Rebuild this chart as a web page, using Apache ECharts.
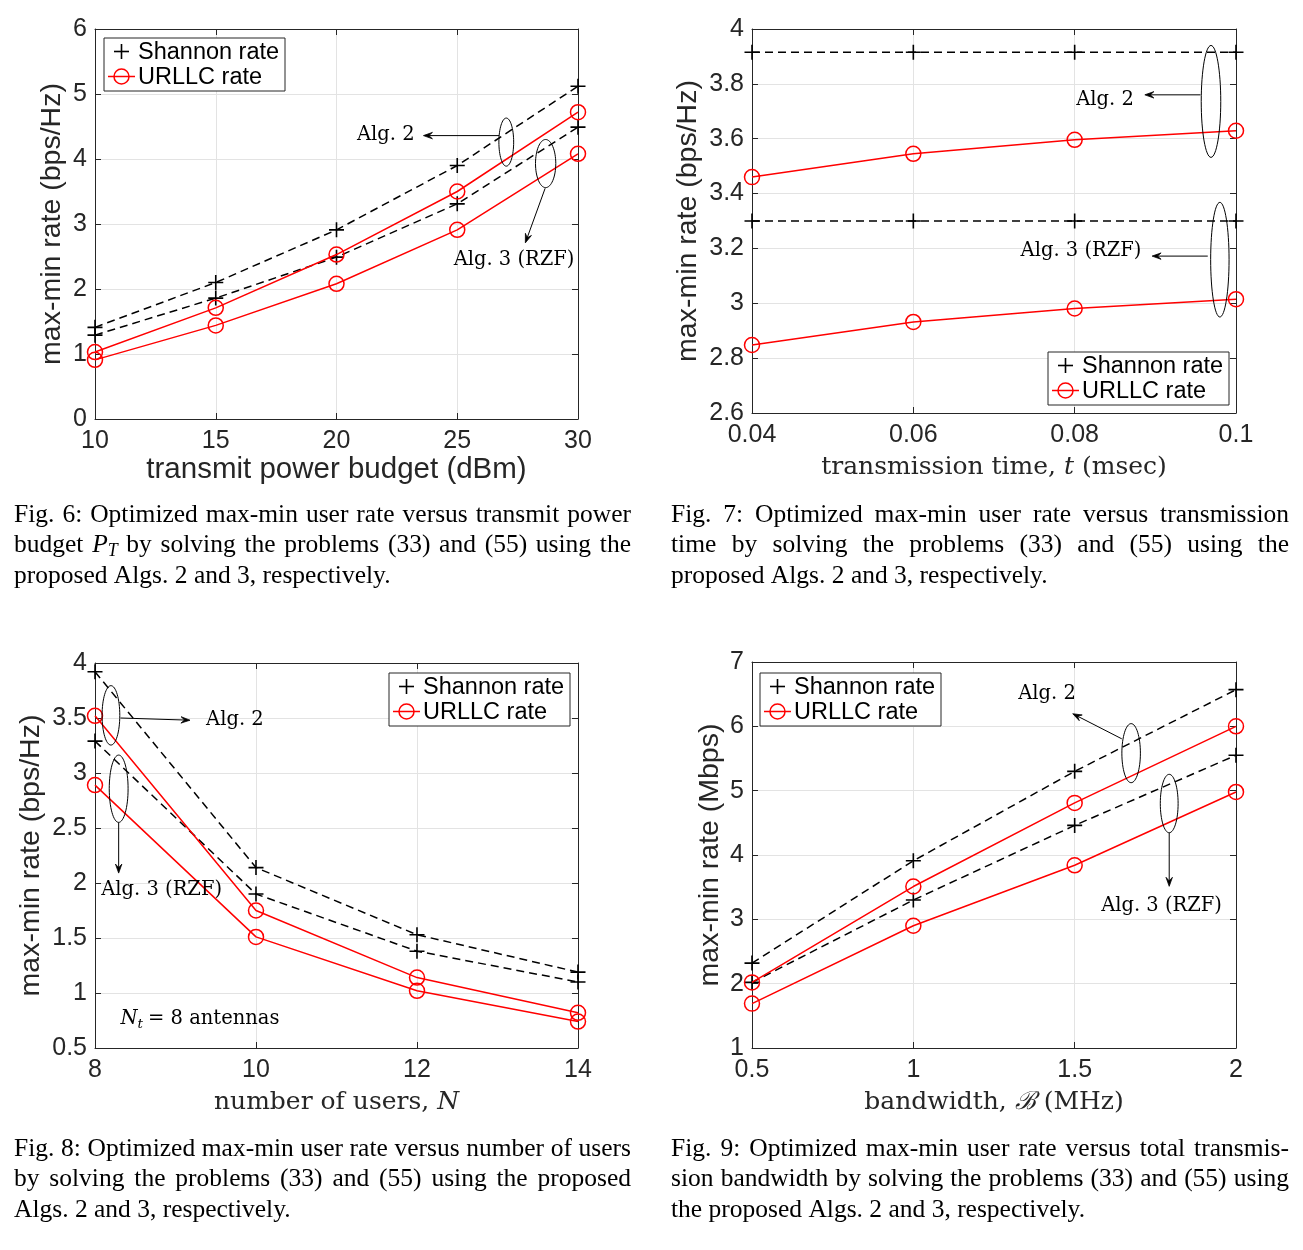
<!DOCTYPE html>
<html><head><meta charset="utf-8">
<script src="https://cdn.jsdelivr.net/npm/echarts@6/dist/echarts.min.js"></script>
<style>html,body{margin:0;padding:0;background:#fff}#c{width:1303px;height:1250px}</style>
</head><body><div id="c"></div>
<script>
// ---------------- DATA ----------------
// Fig. 6: transmit power budget (dBm)
const fig6X = [10, 15, 20, 25, 30];
const fig6ShannonAlg2 = [1.41, 2.10, 2.91, 3.90, 5.12];
const fig6ShannonAlg3 = [1.29, 1.86, 2.49, 3.31, 4.49];
const fig6UrllcAlg2 = [1.03, 1.71, 2.53, 3.50, 4.72];
const fig6UrllcAlg3 = [0.91, 1.44, 2.08, 2.91, 4.08];
// Fig. 7: transmission time (msec)
const fig7X = [0.04, 0.06, 0.08, 0.1];
const fig7ShannonAlg2 = [3.915, 3.915, 3.915, 3.915];
const fig7ShannonAlg3 = [3.30, 3.30, 3.30, 3.30];
const fig7UrllcAlg2 = [3.46, 3.545, 3.596, 3.629];
const fig7UrllcAlg3 = [2.848, 2.932, 2.981, 3.015];
// Fig. 8: number of users
const fig8X = [8, 10, 12, 14];
const fig8ShannonAlg2 = [3.92, 2.14, 1.53, 1.19];
const fig8ShannonAlg3 = [3.29, 1.90, 1.38, 1.10];
const fig8UrllcAlg2 = [3.52, 1.75, 1.14, 0.82];
const fig8UrllcAlg3 = [2.89, 1.51, 1.02, 0.74];
// Fig. 9: bandwidth (MHz)
const fig9X = [0.5, 1, 1.5, 2];
const fig9ShannonAlg2 = [2.32, 3.91, 5.30, 6.57];
const fig9ShannonAlg3 = [2.02, 3.30, 4.46, 5.55];
const fig9UrllcAlg2 = [2.02, 3.51, 4.81, 6.00];
const fig9UrllcAlg3 = [1.69, 2.90, 3.84, 4.98];

// axis ranges [min, max, interval]
const fig6XTicks = [10, 30, 5], fig6YTicks = [0, 6, 1];
const fig7XTicks = [0.04, 0.1, 0.02], fig7YTicks = [2.6, 4, 0.2];
const fig8XTicks = [8, 14, 2], fig8YTicks = [0.5, 4, 0.5];
const fig9XTicks = [0.5, 2, 0.5], fig9YTicks = [1, 7, 1];

const legendNames = ['Shannon rate', 'URLLC rate'];
const annoAlg2 = 'Alg. 2';
const annoAlg3 = 'Alg. 3 (RZF)';

// ---------------- STYLE / LAYOUT ----------------
const INK = '#262626';
const SANS = '"Liberation Sans", Arial, sans-serif';
const SERIF_M = '"DejaVu Serif", serif';
const SERIF_T = '"Liberation Serif", "Times New Roman", serif';
const TICK_FS = 25, TITLE_FS = 29.5, SERIF_TITLE_FS = 25, ANNO_FS = 19.5, LEG_FS = 23.5, CAP_FS = 25.5;

const grids = [
  {left: 95, top: 29, width: 483, height: 390},
  {left: 752, top: 29, width: 484, height: 384},
  {left: 95, top: 663, width: 483, height: 385},
  {left: 752, top: 662, width: 484, height: 386}
];
const figs = [
  {xt: fig6XTicks, yt: fig6YTicks, x: fig6X, s2: fig6ShannonAlg2, s3: fig6ShannonAlg3, u2: fig6UrllcAlg2, u3: fig6UrllcAlg3,
   xName: 'transmit power budget (dBm)', xSerif: false, yName: 'max-min rate (bps/Hz)', yGap: 28},
  {xt: fig7XTicks, yt: fig7YTicks, x: fig7X, s2: fig7ShannonAlg2, s3: fig7ShannonAlg3, u2: fig7UrllcAlg2, u3: fig7UrllcAlg3,
   xName: '{r|transmission time, }{i|t}{r| (msec)}', xSerif: true, yName: 'max-min rate (bps/Hz)', yGap: 49},
  {xt: fig8XTicks, yt: fig8YTicks, x: fig8X, s2: fig8ShannonAlg2, s3: fig8ShannonAlg3, u2: fig8UrllcAlg2, u3: fig8UrllcAlg3,
   xName: '{r|number of users, }{i|N}', xSerif: true, yName: 'max-min rate (bps/Hz)', yGap: 49},
  {xt: fig9XTicks, yt: fig9YTicks, x: fig9X, s2: fig9ShannonAlg2, s3: fig9ShannonAlg3, u2: fig9UrllcAlg2, u3: fig9UrllcAlg3,
   xName: '{r|bandwidth, }{i|ℬ}{r| (MHz)}', xSerif: true, yName: 'max-min rate (Mbps)', yGap: 27}
];

const PLUS = 'path://M0,5L10,5M5,0L5,10';
const xAxes = [], yAxes = [], series = [];
figs.forEach((f, i) => {
  const titleStyle = f.xSerif ? {
    rich: {
      r: {fontFamily: SERIF_M, fontSize: SERIF_TITLE_FS, color: INK},
      i: {fontFamily: SERIF_M, fontSize: SERIF_TITLE_FS, color: INK, fontStyle: 'italic'}
    }
  } : {fontFamily: SANS, fontSize: TITLE_FS, color: INK};
  xAxes[i] = {
    type: 'value', gridIndex: i, position: 'bottom', min: f.xt[0], max: f.xt[1], interval: f.xt[2],
    axisLine: {show: true, onZero: false, lineStyle: {color: INK, width: 1}},
    axisTick: {show: true, inside: true, length: 6, lineStyle: {color: INK}},
    axisLabel: {color: INK, fontSize: TICK_FS, fontFamily: SANS, margin: 10},
    splitLine: {show: true, lineStyle: {color: '#e3e3e3', width: 1}},
    name: f.xName, nameLocation: 'middle', nameGap: f.xSerif ? 42 : 36, nameTextStyle: titleStyle
  };
  xAxes[i + 4] = {
    type: 'value', gridIndex: i, position: 'top', min: f.xt[0], max: f.xt[1], interval: f.xt[2],
    axisLine: {show: true, onZero: false, lineStyle: {color: INK, width: 1}},
    axisTick: {show: true, inside: true, length: 6, lineStyle: {color: INK}},
    axisLabel: {show: false}, splitLine: {show: false}
  };
  yAxes[i] = {
    type: 'value', gridIndex: i, position: 'left', min: f.yt[0], max: f.yt[1], interval: f.yt[2],
    axisLine: {show: true, onZero: false, lineStyle: {color: INK, width: 1}},
    axisTick: {show: true, inside: true, length: 6, lineStyle: {color: INK}},
    axisLabel: {color: INK, fontSize: TICK_FS, fontFamily: SANS, margin: 8},
    splitLine: {show: true, lineStyle: {color: '#e3e3e3', width: 1}},
    name: f.yName, nameLocation: 'middle', nameGap: f.yGap,
    nameTextStyle: {fontFamily: SANS, fontSize: TITLE_FS - 1, color: INK}
  };
  yAxes[i + 4] = {
    type: 'value', gridIndex: i, position: 'right', min: f.yt[0], max: f.yt[1], interval: f.yt[2],
    axisLine: {show: true, onZero: false, lineStyle: {color: INK, width: 1}},
    axisTick: {show: true, inside: true, length: 6, lineStyle: {color: INK}},
    axisLabel: {show: false}, splitLine: {show: false}
  };
  const pts = ys => f.x.map((x, k) => [x, ys[k]]);
  [f.s2, f.s3].forEach(ys => series.push({
    type: 'line', name: legendNames[0], xAxisIndex: i, yAxisIndex: i, data: pts(ys),
    symbol: PLUS, symbolSize: 15, symbolKeepAspect: true,
    itemStyle: {color: '#000', borderColor: '#000', borderWidth: 1.6},
    lineStyle: {color: '#000', width: 1.5, type: [8, 5]}, z: 3, silent: true
  }));
  [f.u2, f.u3].forEach(ys => series.push({
    type: 'line', name: legendNames[1], xAxisIndex: i, yAxisIndex: i, data: pts(ys),
    symbol: 'circle', symbolSize: 15,
    itemStyle: {color: 'rgba(0,0,0,0)', borderColor: '#ff0000', borderWidth: 1.5},
    lineStyle: {color: '#ff0000', width: 1.5}, z: 4, silent: true
  }));
});

const chart = echarts.init(document.getElementById('c'), null, {renderer: 'canvas'});
chart.setOption({
  animation: false,
  backgroundColor: '#fff',
  grid: grids.map(g => Object.assign({show: false, containLabel: false, outerBoundsMode: 'none'}, g)),
  xAxis: xAxes, yAxis: yAxes, series: series
});

// ---------------- ANNOTATIONS (data coordinates) ----------------
const annotations = [
  {gi: 0,
   ellipses: [{c: [27.03, 4.26], r: [0.306, 0.37]}, {c: [28.66, 3.93], r: [0.42, 0.37]}],
   arrows: [[[26.73, 4.36], [23.6, 4.36]], [[28.64, 3.55], [27.82, 2.71]]],
   texts: [{t: annoAlg2, at: [20.85, 4.37]}, {t: annoAlg3, at: [24.85, 2.45]}]},
  {gi: 1,
   ellipses: [{c: [0.0969, 3.736], r: [0.00121, 0.204]}, {c: [0.0980, 3.159], r: [0.00114, 0.209]}],
   arrows: [[[0.0956, 3.760], [0.0887, 3.760]], [[0.0965, 3.172], [0.0896, 3.172]]],
   texts: [{t: annoAlg2, at: [0.0802, 3.74]}, {t: annoAlg3, at: [0.0733, 3.19]}]},
  {gi: 2,
   ellipses: [{c: [8.198, 3.524], r: [0.110, 0.27]}, {c: [8.294, 2.857], r: [0.117, 0.306]}],
   arrows: [[[8.317, 3.50], [9.18, 3.48]], [[8.294, 2.55], [8.294, 2.09]]],
   texts: [{t: annoAlg2, at: [9.38, 3.48]}, {t: annoAlg3, at: [8.078, 1.94]}]},
  {gi: 3,
   ellipses: [{c: [1.675, 5.583], r: [0.0287, 0.459]}, {c: [1.793, 4.80], r: [0.0276, 0.454]}],
   arrows: [[[1.646, 5.806], [1.494, 6.196]], [[1.793, 4.343], [1.793, 3.513]]],
   texts: [{t: annoAlg2, at: [1.325, 6.497]}, {t: annoAlg3, at: [1.582, 3.21]}]}
];
const antennaNote = {gi: 2, at: [8.317, 0.76]};

const mctx = document.createElement('canvas').getContext('2d');
function measure(t, size, family, style) {
  mctx.font = (style || 'normal') + ' ' + size + 'px ' + family;
  return mctx.measureText(t).width;
}
function textEl(t, x, y, size, family, style, fill, align) {
  return {type: 'text', x: x, y: y, silent: true, z: 50,
    style: {text: t, fontSize: size, fontFamily: family, fontStyle: style || 'normal', fill: fill || '#000',
      align: align || 'left', textAlign: align || 'left', verticalAlign: 'middle', textVerticalAlign: 'middle'}};
}
const G = [];
const px = (gi, p) => chart.convertToPixel({gridIndex: gi}, p);

annotations.forEach(a => {
  a.ellipses.forEach(e => {
    const c = px(a.gi, e.c);
    const k = px(a.gi, [e.c[0] + e.r[0], e.c[1] + e.r[1]]);
    G.push({type: 'ellipse', silent: true, z: 40,
      shape: {cx: c[0], cy: c[1], rx: Math.abs(k[0] - c[0]), ry: Math.abs(k[1] - c[1])},
      style: {fill: 'none', stroke: '#000', lineWidth: 1}});
  });
  a.arrows.forEach(ar => {
    const p0 = px(a.gi, ar[0]), p1 = px(a.gi, ar[1]);
    const dx = p1[0] - p0[0], dy = p1[1] - p0[1], L = Math.hypot(dx, dy);
    const ux = dx / L, uy = dy / L, nx = -uy, ny = ux;
    const hl = 9, hw = 3.2;
    G.push({type: 'line', silent: true, z: 40,
      shape: {x1: p0[0], y1: p0[1], x2: p1[0] - ux * 4, y2: p1[1] - uy * 4},
      style: {stroke: '#000', lineWidth: 1}});
    G.push({type: 'polygon', silent: true, z: 40,
      shape: {points: [[p1[0], p1[1]],
        [p1[0] - ux * hl + nx * hw, p1[1] - uy * hl + ny * hw],
        [p1[0] - ux * hl * 0.6, p1[1] - uy * hl * 0.6],
        [p1[0] - ux * hl - nx * hw, p1[1] - uy * hl - ny * hw]]},
      style: {fill: '#000', stroke: '#000', lineWidth: 0.8}});
  });
  a.texts.forEach(t => {
    const p = px(a.gi, t.at);
    G.push(textEl(t.t, p[0], p[1], ANNO_FS, SERIF_M, 'normal', '#000'));
  });
});
// N_t = 8 antennas
(function () {
  const p = px(antennaNote.gi, antennaNote.at);
  let x = p[0];
  G.push(textEl('N', x, p[1], ANNO_FS, SERIF_M, 'italic')); x += measure('N', ANNO_FS, SERIF_M, 'italic');
  G.push(textEl('t', x, p[1] + 5, 13.5, SERIF_M, 'italic')); x += measure('t', 13.5, SERIF_M, 'italic') + 5;
  G.push(textEl('= 8 antennas', x, p[1], ANNO_FS, SERIF_M, 'normal'));
})();

// ---------------- LEGENDS ----------------
const legendBoxes = [
  {gi: 0, corner: 'tl', dx: 9, dy: 9},
  {gi: 1, corner: 'br', dx: 7, dy: 8},
  {gi: 2, corner: 'tr', dx: 8, dy: 10},
  {gi: 3, corner: 'tl', dx: 8, dy: 11}
];
legendBoxes.forEach(l => {
  const g = grids[l.gi], W = 181, H = 53;
  let x = l.corner.indexOf('l') >= 0 ? g.left + l.dx : g.left + g.width - l.dx - W;
  let y = l.corner.indexOf('t') >= 0 ? g.top + l.dy : g.top + g.height - l.dy - H;
  G.push({type: 'rect', silent: true, z: 60, shape: {x: x, y: y, width: W, height: H},
    style: {fill: '#fff', stroke: INK, lineWidth: 1}});
  const r1 = y + 13.5, r2 = y + 38.5, cx = x + 17.5;
  G.push({type: 'line', silent: true, z: 61, shape: {x1: cx - 7.5, y1: r1, x2: cx + 7.5, y2: r1}, style: {stroke: '#000', lineWidth: 1.6}});
  G.push({type: 'line', silent: true, z: 61, shape: {x1: cx, y1: r1 - 7.5, x2: cx, y2: r1 + 7.5}, style: {stroke: '#000', lineWidth: 1.6}});
  G.push({type: 'line', silent: true, z: 61, shape: {x1: x + 4, y1: r2, x2: x + 31, y2: r2}, style: {stroke: '#ff0000', lineWidth: 1.5}});
  G.push({type: 'circle', silent: true, z: 61, shape: {cx: cx, cy: r2, r: 7.5}, style: {fill: 'none', stroke: '#ff0000', lineWidth: 1.5}});
  G.push(Object.assign(textEl(legendNames[0], x + 34, r1 + 1, LEG_FS, SANS, 'normal', '#000'), {z: 62}));
  G.push(Object.assign(textEl(legendNames[1], x + 34, r2 + 1, LEG_FS, SANS, 'normal', '#000'), {z: 62}));
});

// ---------------- CAPTIONS ----------------
const captions = [
  {x0: 14, x1: 631, y: 514, lines: [
    'Fig. 6: Optimized max-min user rate versus transmit power',
    'budget P_T by solving the problems (33) and (55) using the',
    'proposed Algs. 2 and 3, respectively.']},
  {x0: 671, x1: 1289, y: 514, lines: [
    'Fig. 7: Optimized max-min user rate versus transmission',
    'time by solving the problems (33) and (55) using the',
    'proposed Algs. 2 and 3, respectively.']},
  {x0: 14, x1: 631, y: 1148, lines: [
    'Fig. 8: Optimized max-min user rate versus number of users',
    'by solving the problems (33) and (55) using the proposed',
    'Algs. 2 and 3, respectively.']},
  {x0: 671, x1: 1289, y: 1148, lines: [
    'Fig. 9: Optimized max-min user rate versus total transmis-',
    'sion bandwidth by solving the problems (33) and (55) using',
    'the proposed Algs. 2 and 3, respectively.']}
];
function wordPieces(w) {
  if (w === 'P_T') return [{t: 'P', size: CAP_FS, style: 'italic', dy: 0}, {t: 'T', size: CAP_FS * 0.7, style: 'italic', dy: 6}];
  return [{t: w, size: CAP_FS, style: 'normal', dy: 0}];
}
captions.forEach(c => {
  c.lines.forEach((line, li) => {
    const y = c.y + 1 + li * 30.5;
    const words = line.split(' ').map(w => {
      const ps = wordPieces(w);
      ps.forEach(p => p.w = measure(p.t, p.size, SERIF_T, p.style));
      return {ps: ps, w: ps.reduce((s, p) => s + p.w, 0)};
    });
    const total = words.reduce((s, w) => s + w.w, 0);
    const justify = li < c.lines.length - 1;
    const gap = justify ? (c.x1 - c.x0 - total) / (words.length - 1) : measure(' ', CAP_FS, SERIF_T, 'normal');
    let x = c.x0;
    words.forEach(w => {
      let xx = x;
      w.ps.forEach(p => { G.push(textEl(p.t, xx, y + p.dy, p.size, SERIF_T, p.style, '#000')); xx += p.w; });
      x += w.w + gap;
    });
  });
});

chart.setOption({graphic: G});
</script>
</body></html>
